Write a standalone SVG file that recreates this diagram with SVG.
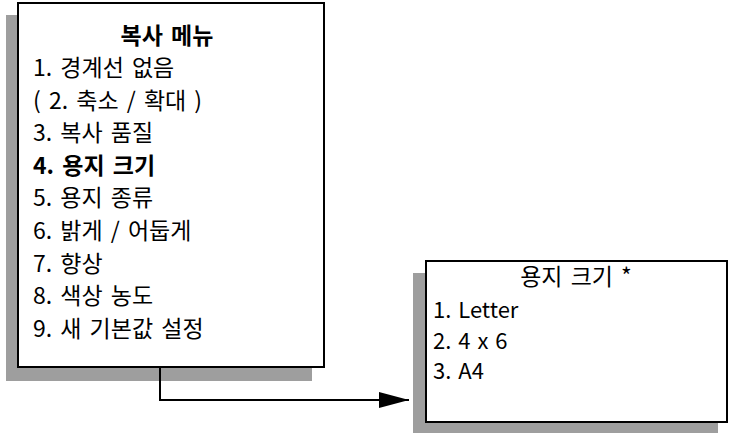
<svg xmlns="http://www.w3.org/2000/svg" width="729" height="433" viewBox="0 0 729 433">
<style>
.shadow{fill:#9e9e9e}
.box{fill:#fff;stroke:#000;stroke-width:2}
text{font-family:"Noto Sans CJK KR","Noto Sans",sans-serif;font-size:23px;fill:#000;word-spacing:3px}
.title{font-weight:bold;text-anchor:middle}
.b{font-weight:bold}
.sm{font-size:22px;word-spacing:2px}
.conn{fill:none;stroke:#000;stroke-width:2}
</style>
<defs>
<marker id="arr" markerWidth="30" markerHeight="16" refX="30" refY="8" orient="auto" markerUnits="userSpaceOnUse">
<path d="M0,0 L30,8 L0,16 Z" fill="#000"/>
</marker>
</defs>
<g id="copy-menu">
<rect class="shadow" x="6" y="15" width="306" height="366"/>
<rect class="box" x="18" y="3" width="306" height="364"/>
<text class="title" x="167" y="44">복사 메뉴</text>
<text x="33" y="76">1. 경계선 없음</text>
<text x="33" y="108.6">( 2. 축소 / 확대 )</text>
<text x="33" y="141.2">3. 복사 품질</text>
<text class="b" x="33" y="173.8">4. 용지 크기</text>
<text x="33" y="206.4">5. 용지 종류</text>
<text x="33" y="239">6. 밝게 / 어둡게</text>
<text x="33" y="271.6">7. 향상</text>
<text x="33" y="304.2">8. 색상 농도</text>
<text x="33" y="336.8">9. 새 기본값 설정</text>
</g>
<g id="paper-size">
<rect class="shadow" x="413" y="273" width="305" height="160"/>
<rect class="box" x="426" y="261" width="301" height="161"/>
<text x="576" y="285" text-anchor="middle">용지 크기 *</text>
<text class="sm" x="433" y="318">1. Letter</text>
<text class="sm" x="433" y="349">2. 4 x 6</text>
<text class="sm" x="433" y="379">3. A4</text>
</g>
<g id="connectors">
<path class="conn" d="M160,367 V400 H409" marker-end="url(#arr)"/>
</g>
</svg>
